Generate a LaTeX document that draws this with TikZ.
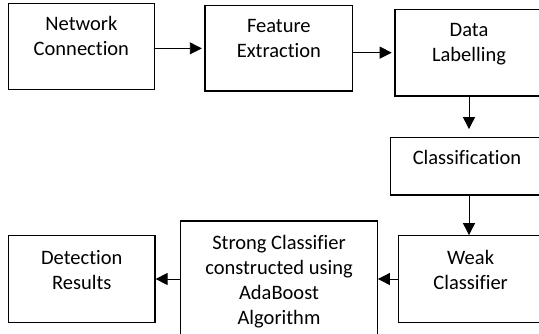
\documentclass[tikz,border=0pt]{standalone}
\usepackage{fontspec}
\setmainfont{Carlito}[Ligatures=NoCommon]
\usepackage{tikz}
\usetikzlibrary{arrows.meta}

\begin{document}
\begin{tikzpicture}[x=1pt, y=-1pt,
        blk/.style={draw, rectangle, line width=1.2pt, inner sep=0pt},
        txt/.style={align=center, inner sep=0pt, anchor=base, font=\fontsize{20.5}{25}\selectfont},
        arr/.style={-{Triangle[length=12pt,width=12pt]}, line width=0.9pt}]
        \useasboundingbox (0,0) rectangle (539,333);
        \node[blk, minimum width=146.2, minimum height=86] (netconn) at (81.4, 46.3) {};
        \node[txt] (netconn-txt) at (81.4, 55) {Network\\Connection};
        \node[blk, minimum width=147.7, minimum height=85.3] (featext) at (278.85, 48.35) {};
        \node[txt] (featext-txt) at (278.85, 57) {Feature\\Extraction};
        \node[blk, minimum width=148, minimum height=86.7] (datalab) at (469, 52.65) {};
        \node[txt] (datalab-txt) at (469, 61) {Data\\Labelling};
        \node[blk, minimum width=152.3, minimum height=57.3] (classif) at (466.85, 166.35) {};
        \node[txt] (classif-txt) at (467, 164) {Classification};
        \node[blk, minimum width=144.7, minimum height=86.6] (weak) at (470.65, 279) {};
        \node[txt] (weak-txt) at (470.65, 289.5) {Weak\\Classifier};
        \node[blk, minimum width=196.6, minimum height=129] (strong) at (279, 285.5) {};
        \node[txt] (strong-txt) at (279, 324) {Strong Classifier\\constructed using\\AdaBoost\\Algorithm};
        \node[blk, minimum width=146.4, minimum height=86.6] (detres) at (81.8, 279) {};
        \node[txt] (detres-txt) at (81.8, 289) {Detection\\Results};
        \draw[arr, shorten >=2.6pt] (netconn.east |- featext.west) -- (featext.west);
        \draw[arr, shorten >=2.7pt] (featext.east |- datalab.west) -- (datalab.west);
        \draw[arr, shorten >=8pt] (datalab.south) -- (datalab.south |- classif.north);
        \draw[arr] (classif.south -| datalab.south) -- (weak.north -| datalab.south);
        \draw[arr] (weak.west) -- (weak.west -| strong.east);
        \draw[arr] (strong.west |- detres.east) -- (detres.east);
    \end{tikzpicture}
\end{document}
